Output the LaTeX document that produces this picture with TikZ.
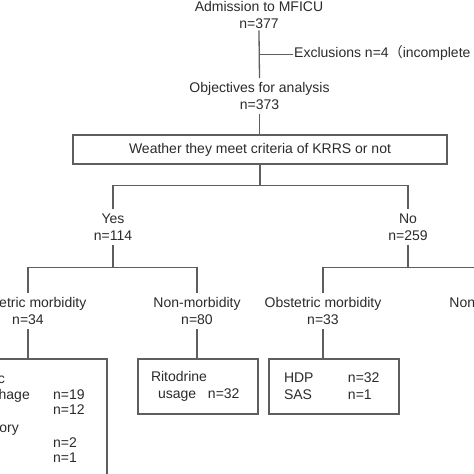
\documentclass[tikz,border=0pt]{standalone}
\usepackage{fontspec}
\setmainfont{Liberation Sans}
\newfontfamily\cjk{Noto Sans CJK SC}
\definecolor{linegray}{HTML}{5E5E5E}
\definecolor{textgray}{HTML}{2B2B2B}
\tikzset{
  txt/.style={align=center, text=textgray, font=\fontsize{14}{17}\selectfont, inner xsep=2pt, inner ysep=4pt},
  box/.style={txt, draw=linegray, line width=1.3pt},
  conn/.style={draw=linegray, line width=1.3pt}
}

\begin{document}
\begin{tikzpicture}[x=1pt,y=1pt]
\useasboundingbox (0,0) rectangle (474,-474);
\fill[white] (0,0) rectangle (474,-474);
\clip (0,0) rectangle (474,-474);

% admission and exclusions
\node[txt] (adm) at (259,-14.5) {Admission to MFICU\\n=377};
\node[txt] (obj) at (259.5,-96) {Objectives for analysis\\n=373};
\node[txt, anchor=base west, inner sep=1pt] (excl) at (293,-57) {Exclusions n=4{\cjk （}incomplete data{\cjk ）}};
\draw[conn, shorten <=-2pt] (adm.south) -- (obj.north);
\draw[conn] (excl.mid west) -- (excl.mid west -| adm.south);

% KRRS criteria
\node[box, minimum width=374pt, minimum height=29pt, inner sep=0pt] (krrs) at (260,-149.5) {Weather they meet criteria of KRRS or not};
\draw[conn] (obj.south) -- (obj.south |- krrs.north);

\node[txt] (yes) at (113,-227) {Yes\\n=114};
\node[txt] (no) at (408,-227) {No\\n=259};
\draw[conn] (krrs.south) -- ++(0,-21) coordinate (krrsj);
\draw[conn] (yes.north) |- (krrsj) -| (no.north);

% second level
\node[txt] (morb1) at (28,-311) {Obstetric morbidity\\n=34};
\node[txt] (non1) at (197,-311) {Non-morbidity\\n=80};
\node[txt] (morb2) at (323,-311) {Obstetric morbidity\\n=33};
\node[txt] (non2) at (493,-311) {Non-morbidity\\n=226};
\draw[conn] (yes.south) -- ++(0,-23) coordinate (yesj);
\draw[conn] (morb1.north) |- (yesj) -| (non1.north);
\draw[conn] (no.south) -- ++(0,-23) coordinate (noj);
\draw[conn] (morb2.north) |- (noj) -| (non2.north);

% detail boxes
\node[box, minimum width=158pt, minimum height=171pt] (lbox) at (28,-444.5) {};
\node[box, text width=94pt, inner xsep=13pt, minimum height=55pt, align=left] (rito) at (198,-386.5)
  {\makebox[57pt][l]{Ritodrine}\\\makebox[57pt][l]{\hspace{7pt}usage}n=32};
\node[box, text width=100pt, inner xsep=15pt, minimum height=55pt, align=left] (hdp) at (334,-386.5)
  {\makebox[64pt][l]{HDP}n=32\\\makebox[64pt][l]{SAS}n=1};
\draw[conn] (morb1.south) -- (morb1.south |- lbox.north);
\draw[conn] (non1.south) -- (non1.south |- rito.north);
\draw[conn] (morb2.south) -- (morb2.south |- hdp.north);

\node[txt, anchor=base east, inner sep=0pt] (l1) at (5,-383) {Obstetric};
\node[txt, anchor=base east, inner sep=0pt] (l2) at (30,-399) {hemorrhage};
\node[txt, anchor=base east, inner sep=0pt] (l4) at (19,-432) {history};
\node[txt, anchor=base west, inner sep=0pt] (n1) at (53,-399) {n=19};
\node[txt, anchor=base west, inner sep=0pt] (n2) at (53,-414) {n=12};
\node[txt, anchor=base west, inner sep=0pt] (n3) at (53,-447) {n=2};
\node[txt, anchor=base west, inner sep=0pt] (n4) at (53,-462) {n=1};
\end{tikzpicture}
\end{document}
